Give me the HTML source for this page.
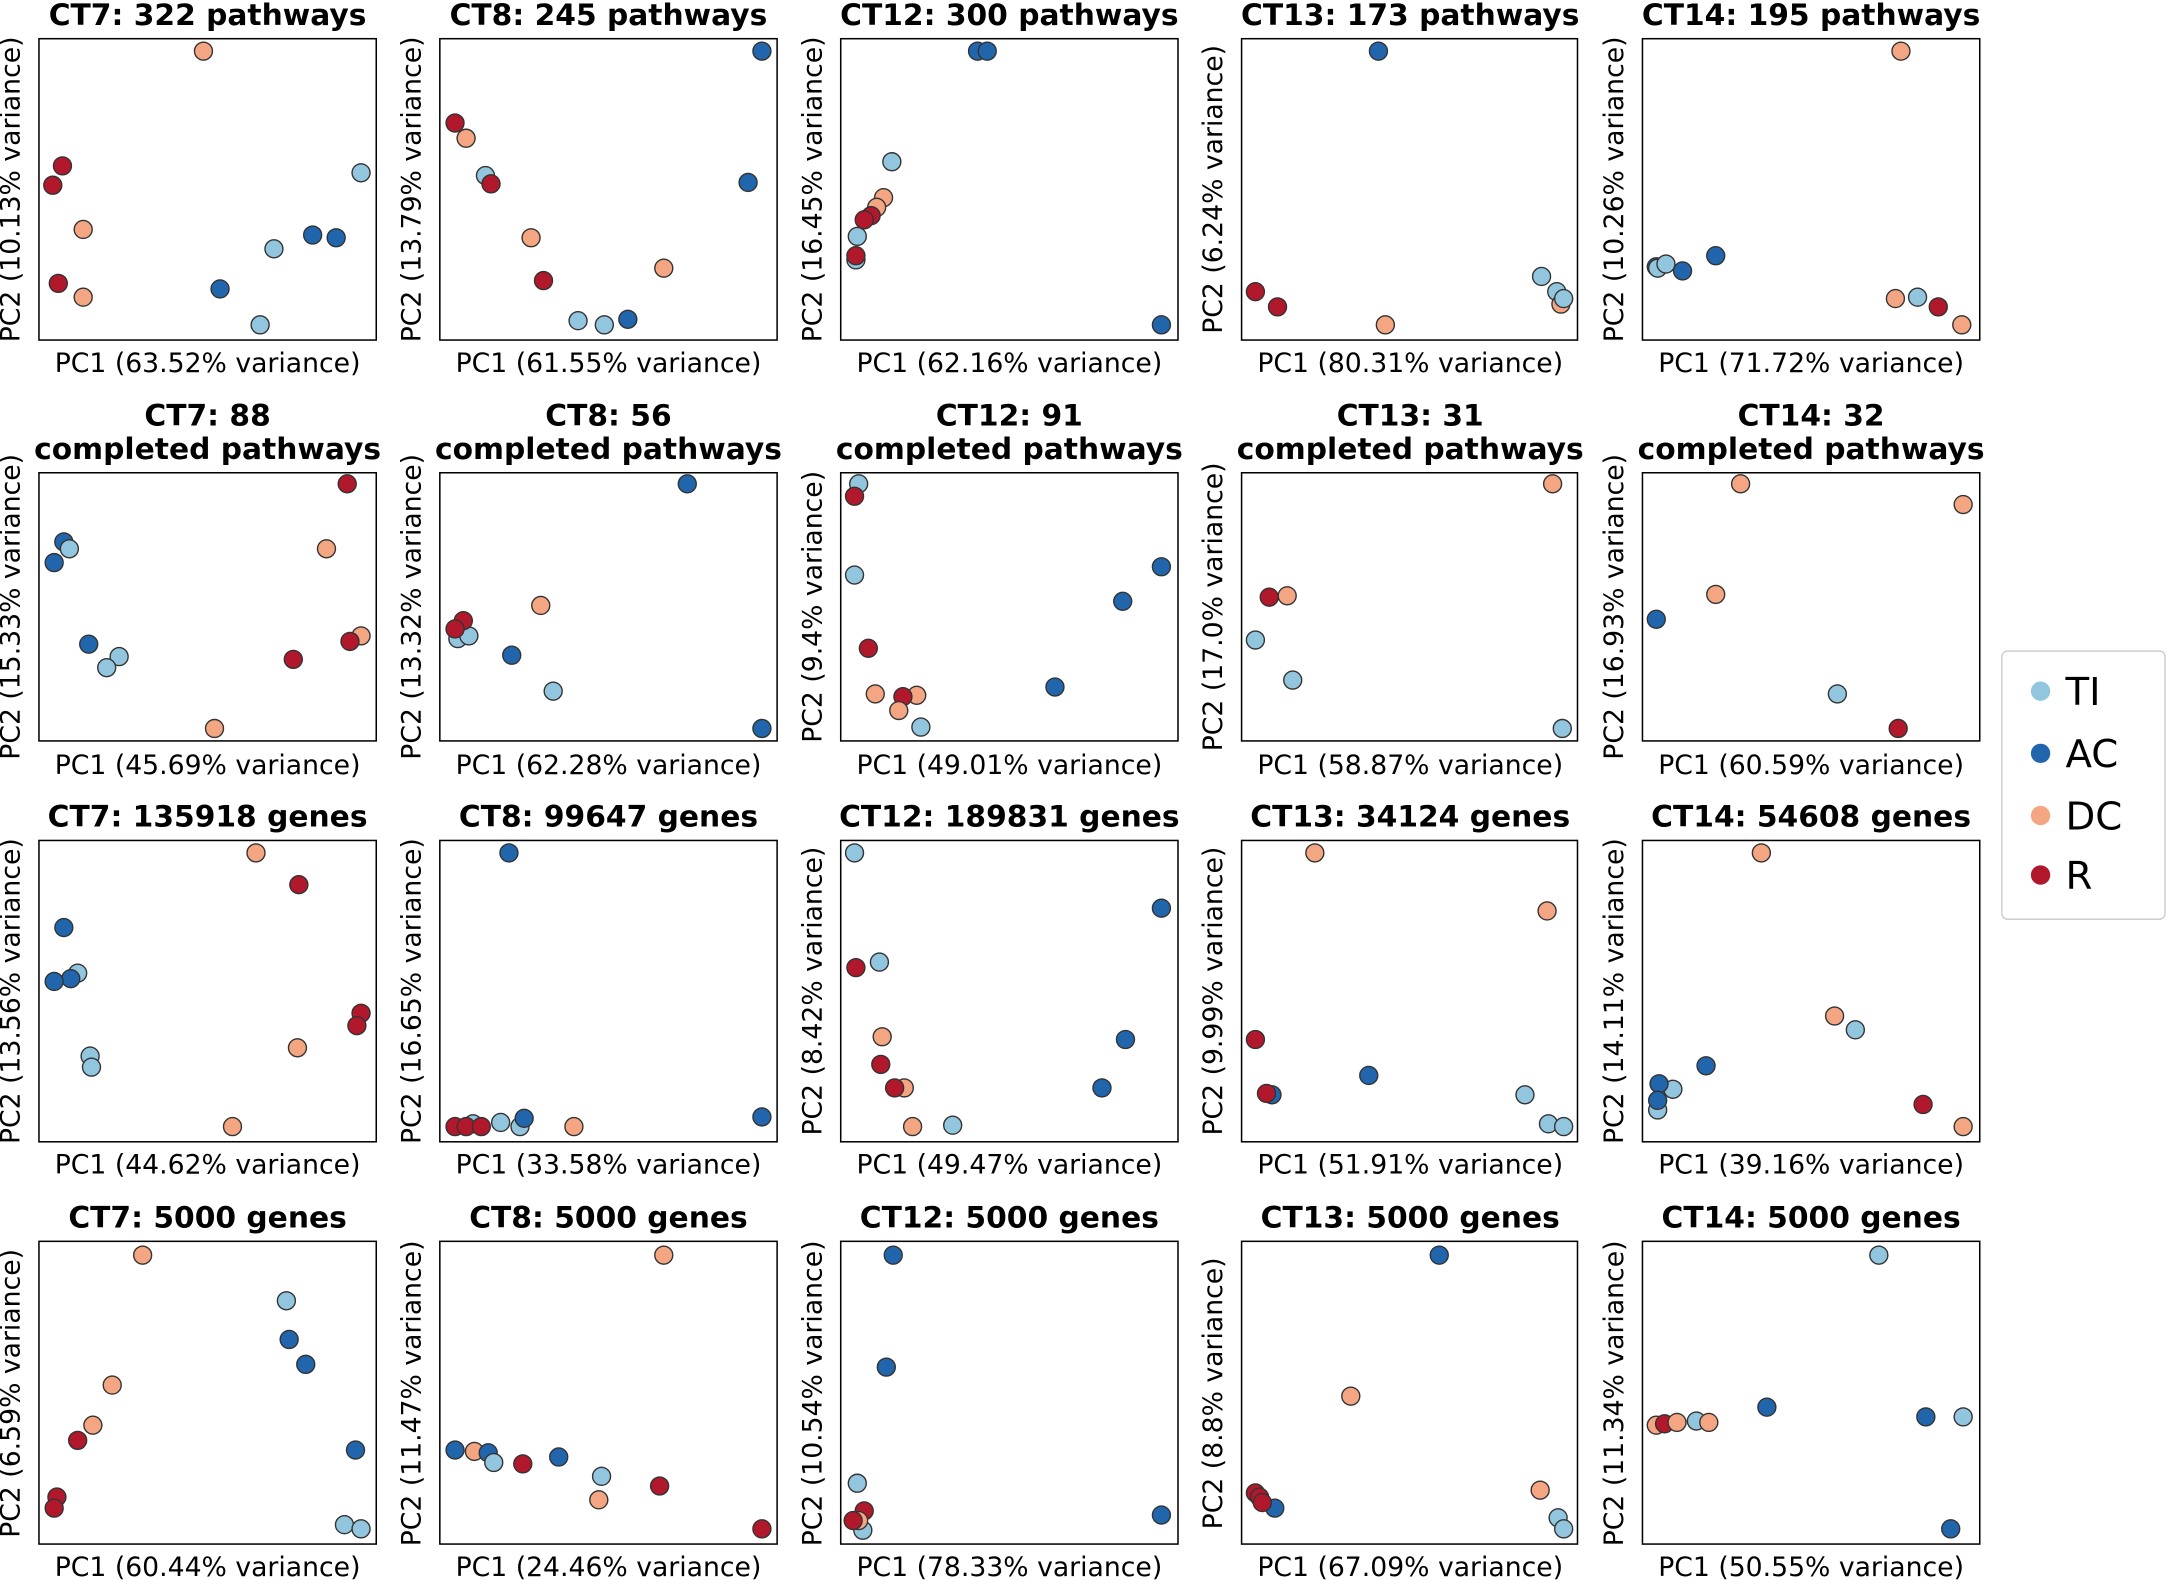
<!DOCTYPE html>
<html><head><meta charset="utf-8"><style>
html,body{margin:0;padding:0;background:#fff}
svg{display:block}
text{font-family:"DejaVu Sans","Liberation Sans",sans-serif;fill:#000}
.t{font-size:21.5px;font-weight:bold;text-anchor:middle}
.x{font-size:19.3px;text-anchor:middle}
.y{font-size:19.3px;text-anchor:middle}
.f{fill:none;stroke:#000;stroke-width:1.1}
.TI{fill:#92c5de;stroke:#333;stroke-width:1}
.AC{fill:#2166ac;stroke:#333;stroke-width:1}
.DC{fill:#f4a582;stroke:#333;stroke-width:1}
.R{fill:#b2182b;stroke:#333;stroke-width:1}
</style></head><body>
<svg width="2168" height="1580" viewBox="0 0 1568 1143" xmlns="http://www.w3.org/2000/svg">
<g>
<rect class="f" x="28" y="28" width="244" height="218"/><rect class="f" x="318" y="28" width="244" height="218"/><rect class="f" x="608" y="28" width="244" height="218"/><rect class="f" x="898" y="28" width="243" height="218"/><rect class="f" x="1188" y="28" width="244" height="218"/>
<rect class="f" x="28" y="342" width="244" height="194"/><rect class="f" x="318" y="342" width="244" height="194"/><rect class="f" x="608" y="342" width="244" height="194"/><rect class="f" x="898" y="342" width="243" height="194"/><rect class="f" x="1188" y="342" width="244" height="194"/>
<rect class="f" x="28" y="608" width="244" height="218"/><rect class="f" x="318" y="608" width="244" height="218"/><rect class="f" x="608" y="608" width="244" height="218"/><rect class="f" x="898" y="608" width="243" height="218"/><rect class="f" x="1188" y="608" width="244" height="218"/>
<rect class="f" x="28" y="898" width="244" height="219"/><rect class="f" x="318" y="898" width="244" height="219"/><rect class="f" x="608" y="898" width="244" height="219"/><rect class="f" x="898" y="898" width="243" height="219"/><rect class="f" x="1188" y="898" width="244" height="219"/>
</g>
<text class="t" x="150" y="18">CT7: 322 pathways</text><text class="t" x="440" y="18">CT8: 245 pathways</text><text class="t" x="730" y="18">CT12: 300 pathways</text><text class="t" x="1020" y="18">CT13: 173 pathways</text><text class="t" x="1310" y="18">CT14: 195 pathways</text>
<text class="t" x="150" y="308">CT7: 88</text><text class="t" x="150" y="332">completed pathways</text>
<text class="t" x="440" y="308">CT8: 56</text><text class="t" x="440" y="332">completed pathways</text>
<text class="t" x="730" y="308">CT12: 91</text><text class="t" x="730" y="332">completed pathways</text>
<text class="t" x="1020" y="308">CT13: 31</text><text class="t" x="1020" y="332">completed pathways</text>
<text class="t" x="1310" y="308">CT14: 32</text><text class="t" x="1310" y="332">completed pathways</text>
<text class="t" x="150" y="598">CT7: 135918 genes</text><text class="t" x="440" y="598">CT8: 99647 genes</text><text class="t" x="730" y="598">CT12: 189831 genes</text><text class="t" x="1020" y="598">CT13: 34124 genes</text><text class="t" x="1310" y="598">CT14: 54608 genes</text>
<text class="t" x="150" y="888">CT7: 5000 genes</text><text class="t" x="440" y="888">CT8: 5000 genes</text><text class="t" x="730" y="888">CT12: 5000 genes</text><text class="t" x="1020" y="888">CT13: 5000 genes</text><text class="t" x="1310" y="888">CT14: 5000 genes</text>
<text class="x" x="150" y="269">PC1 (63.52% variance)</text><text class="x" x="440" y="269">PC1 (61.55% variance)</text><text class="x" x="730" y="269">PC1 (62.16% variance)</text><text class="x" x="1020" y="269">PC1 (80.31% variance)</text><text class="x" x="1310" y="269">PC1 (71.72% variance)</text>
<text class="x" x="150" y="560">PC1 (45.69% variance)</text><text class="x" x="440" y="560">PC1 (62.28% variance)</text><text class="x" x="730" y="560">PC1 (49.01% variance)</text><text class="x" x="1020" y="560">PC1 (58.87% variance)</text><text class="x" x="1310" y="560">PC1 (60.59% variance)</text>
<text class="x" x="150" y="849">PC1 (44.62% variance)</text><text class="x" x="440" y="849">PC1 (33.58% variance)</text><text class="x" x="730" y="849">PC1 (49.47% variance)</text><text class="x" x="1020" y="849">PC1 (51.91% variance)</text><text class="x" x="1310" y="849">PC1 (39.16% variance)</text>
<text class="x" x="150" y="1140">PC1 (60.44% variance)</text><text class="x" x="440" y="1140">PC1 (24.46% variance)</text><text class="x" x="730" y="1140">PC1 (78.33% variance)</text><text class="x" x="1020" y="1140">PC1 (67.09% variance)</text><text class="x" x="1310" y="1140">PC1 (50.55% variance)</text>
<text class="y" transform="translate(14,137) rotate(-90)">PC2 (10.13% variance)</text><text class="y" transform="translate(304,137) rotate(-90)">PC2 (13.79% variance)</text><text class="y" transform="translate(594,137) rotate(-90)">PC2 (16.45% variance)</text><text class="y" transform="translate(884,137) rotate(-90)">PC2 (6.24% variance)</text><text class="y" transform="translate(1174,137) rotate(-90)">PC2 (10.26% variance)</text>
<text class="y" transform="translate(14,439) rotate(-90)">PC2 (15.33% variance)</text><text class="y" transform="translate(304,439) rotate(-90)">PC2 (13.32% variance)</text><text class="y" transform="translate(594,439) rotate(-90)">PC2 (9.4% variance)</text><text class="y" transform="translate(884,439) rotate(-90)">PC2 (17.0% variance)</text><text class="y" transform="translate(1174,439) rotate(-90)">PC2 (16.93% variance)</text>
<text class="y" transform="translate(14,717) rotate(-90)">PC2 (13.56% variance)</text><text class="y" transform="translate(304,717) rotate(-90)">PC2 (16.65% variance)</text><text class="y" transform="translate(594,717) rotate(-90)">PC2 (8.42% variance)</text><text class="y" transform="translate(884,717) rotate(-90)">PC2 (9.99% variance)</text><text class="y" transform="translate(1174,717) rotate(-90)">PC2 (14.11% variance)</text>
<text class="y" transform="translate(14,1008) rotate(-90)">PC2 (6.59% variance)</text><text class="y" transform="translate(304,1008) rotate(-90)">PC2 (11.47% variance)</text><text class="y" transform="translate(594,1008) rotate(-90)">PC2 (10.54% variance)</text><text class="y" transform="translate(884,1008) rotate(-90)">PC2 (8.8% variance)</text><text class="y" transform="translate(1174,1008) rotate(-90)">PC2 (11.34% variance)</text>
<g>
<circle class="DC" cx="147" cy="37" r="6.5"/><circle class="R" cx="45" cy="120" r="6.5"/><circle class="R" cx="38" cy="134" r="6.5"/><circle class="DC" cx="60" cy="166" r="6.5"/><circle class="R" cx="42" cy="205" r="6.5"/><circle class="DC" cx="60" cy="215" r="6.5"/><circle class="AC" cx="159" cy="209" r="6.5"/><circle class="TI" cx="198" cy="180" r="6.5"/><circle class="AC" cx="226" cy="170" r="6.5"/><circle class="AC" cx="243" cy="172" r="6.5"/><circle class="TI" cx="261" cy="125" r="6.5"/><circle class="TI" cx="188" cy="235" r="6.5"/>
<circle class="AC" cx="551" cy="37" r="6.5"/><circle class="R" cx="329" cy="89" r="6.5"/><circle class="DC" cx="337" cy="100" r="6.5"/><circle class="TI" cx="351" cy="127" r="6.5"/><circle class="R" cx="355" cy="133" r="6.5"/><circle class="DC" cx="384" cy="172" r="6.5"/><circle class="R" cx="393" cy="203" r="6.5"/><circle class="DC" cx="480" cy="194" r="6.5"/><circle class="AC" cx="541" cy="132" r="6.5"/><circle class="TI" cx="418" cy="232" r="6.5"/><circle class="TI" cx="437" cy="235" r="6.5"/><circle class="AC" cx="454" cy="231" r="6.5"/>
<circle class="AC" cx="707" cy="37" r="6.5"/><circle class="AC" cx="714" cy="37" r="6.5"/><circle class="TI" cx="645" cy="117" r="6.5"/><circle class="DC" cx="639" cy="143" r="6.5"/><circle class="DC" cx="634" cy="150" r="6.5"/><circle class="R" cx="630" cy="156" r="6.5"/><circle class="R" cx="625" cy="159" r="6.5"/><circle class="TI" cx="620" cy="171" r="6.5"/><circle class="TI" cx="619" cy="188" r="6.5"/><circle class="R" cx="619" cy="185" r="6.5"/><circle class="AC" cx="840" cy="235" r="6.5"/>
<circle class="AC" cx="997" cy="37" r="6.5"/><circle class="R" cx="908" cy="211" r="6.5"/><circle class="R" cx="924" cy="222" r="6.5"/><circle class="DC" cx="1002" cy="235" r="6.5"/><circle class="TI" cx="1115" cy="200" r="6.5"/><circle class="TI" cx="1126" cy="211" r="6.5"/><circle class="DC" cx="1129" cy="220" r="6.5"/><circle class="TI" cx="1131" cy="216" r="6.5"/>
<circle class="DC" cx="1375" cy="37" r="6.5"/><circle class="AC" cx="1198" cy="193" r="6.5"/><circle class="TI" cx="1199" cy="194" r="6.5"/><circle class="TI" cx="1205" cy="191" r="6.5"/><circle class="AC" cx="1217" cy="196" r="6.5"/><circle class="AC" cx="1241" cy="185" r="6.5"/><circle class="DC" cx="1371" cy="216" r="6.5"/><circle class="TI" cx="1387" cy="215" r="6.5"/><circle class="R" cx="1402" cy="222" r="6.5"/><circle class="DC" cx="1419" cy="235" r="6.5"/>
<circle class="R" cx="251" cy="350" r="6.5"/><circle class="AC" cx="46" cy="392" r="6.5"/><circle class="TI" cx="50" cy="397" r="6.5"/><circle class="AC" cx="39" cy="407" r="6.5"/><circle class="DC" cx="236" cy="397" r="6.5"/><circle class="AC" cx="64" cy="466" r="6.5"/><circle class="TI" cx="86" cy="475" r="6.5"/><circle class="TI" cx="77" cy="483" r="6.5"/><circle class="R" cx="212" cy="477" r="6.5"/><circle class="DC" cx="261" cy="460" r="6.5"/><circle class="R" cx="253" cy="464" r="6.5"/><circle class="DC" cx="155" cy="527" r="6.5"/>
<circle class="AC" cx="497" cy="350" r="6.5"/><circle class="TI" cx="331" cy="462" r="6.5"/><circle class="TI" cx="339" cy="460" r="6.5"/><circle class="R" cx="335" cy="449" r="6.5"/><circle class="R" cx="329" cy="455" r="6.5"/><circle class="DC" cx="391" cy="438" r="6.5"/><circle class="AC" cx="370" cy="474" r="6.5"/><circle class="TI" cx="400" cy="500" r="6.5"/><circle class="AC" cx="551" cy="527" r="6.5"/>
<circle class="TI" cx="621" cy="350" r="6.5"/><circle class="R" cx="618" cy="359" r="6.5"/><circle class="TI" cx="618" cy="416" r="6.5"/><circle class="R" cx="628" cy="469" r="6.5"/><circle class="DC" cx="633" cy="502" r="6.5"/><circle class="DC" cx="663" cy="503" r="6.5"/><circle class="R" cx="653" cy="504" r="6.5"/><circle class="DC" cx="650" cy="514" r="6.5"/><circle class="TI" cx="666" cy="526" r="6.5"/><circle class="AC" cx="763" cy="497" r="6.5"/><circle class="AC" cx="812" cy="435" r="6.5"/><circle class="AC" cx="840" cy="410" r="6.5"/>
<circle class="DC" cx="1123" cy="350" r="6.5"/><circle class="DC" cx="931" cy="431" r="6.5"/><circle class="R" cx="918" cy="432" r="6.5"/><circle class="TI" cx="908" cy="463" r="6.5"/><circle class="TI" cx="935" cy="492" r="6.5"/><circle class="TI" cx="1130" cy="527" r="6.5"/>
<circle class="DC" cx="1259" cy="350" r="6.5"/><circle class="DC" cx="1420" cy="365" r="6.5"/><circle class="DC" cx="1241" cy="430" r="6.5"/><circle class="AC" cx="1198" cy="448" r="6.5"/><circle class="TI" cx="1329" cy="502" r="6.5"/><circle class="R" cx="1373" cy="527" r="6.5"/>
<circle class="DC" cx="185" cy="617" r="6.5"/><circle class="R" cx="216" cy="640" r="6.5"/><circle class="AC" cx="46" cy="671" r="6.5"/><circle class="TI" cx="56" cy="704" r="6.5"/><circle class="AC" cx="51" cy="708" r="6.5"/><circle class="AC" cx="39" cy="710" r="6.5"/><circle class="TI" cx="65" cy="764" r="6.5"/><circle class="TI" cx="66" cy="772" r="6.5"/><circle class="DC" cx="215" cy="758" r="6.5"/><circle class="R" cx="261" cy="733" r="6.5"/><circle class="R" cx="258" cy="742" r="6.5"/><circle class="DC" cx="168" cy="815" r="6.5"/>
<circle class="AC" cx="368" cy="617" r="6.5"/><circle class="TI" cx="342" cy="813" r="6.5"/><circle class="TI" cx="362" cy="812" r="6.5"/><circle class="TI" cx="376" cy="815" r="6.5"/><circle class="R" cx="329" cy="815" r="6.5"/><circle class="R" cx="337" cy="815" r="6.5"/><circle class="R" cx="348" cy="815" r="6.5"/><circle class="AC" cx="379" cy="809" r="6.5"/><circle class="DC" cx="415" cy="815" r="6.5"/><circle class="AC" cx="551" cy="808" r="6.5"/>
<circle class="TI" cx="618" cy="617" r="6.5"/><circle class="AC" cx="840" cy="657" r="6.5"/><circle class="TI" cx="636" cy="696" r="6.5"/><circle class="R" cx="619" cy="700" r="6.5"/><circle class="DC" cx="638" cy="750" r="6.5"/><circle class="R" cx="637" cy="770" r="6.5"/><circle class="DC" cx="654" cy="787" r="6.5"/><circle class="R" cx="647" cy="787" r="6.5"/><circle class="DC" cx="660" cy="815" r="6.5"/><circle class="TI" cx="689" cy="814" r="6.5"/><circle class="AC" cx="814" cy="752" r="6.5"/><circle class="AC" cx="797" cy="787" r="6.5"/>
<circle class="DC" cx="951" cy="617" r="6.5"/><circle class="DC" cx="1119" cy="659" r="6.5"/><circle class="R" cx="908" cy="752" r="6.5"/><circle class="AC" cx="990" cy="778" r="6.5"/><circle class="AC" cx="920" cy="792" r="6.5"/><circle class="R" cx="916" cy="791" r="6.5"/><circle class="TI" cx="1103" cy="792" r="6.5"/><circle class="TI" cx="1120" cy="813" r="6.5"/><circle class="TI" cx="1131" cy="815" r="6.5"/>
<circle class="DC" cx="1274" cy="617" r="6.5"/><circle class="DC" cx="1327" cy="735" r="6.5"/><circle class="TI" cx="1342" cy="745" r="6.5"/><circle class="AC" cx="1234" cy="771" r="6.5"/><circle class="TI" cx="1210" cy="788" r="6.5"/><circle class="AC" cx="1200" cy="784" r="6.5"/><circle class="TI" cx="1199" cy="803" r="6.5"/><circle class="AC" cx="1199" cy="796" r="6.5"/><circle class="R" cx="1391" cy="799" r="6.5"/><circle class="DC" cx="1420" cy="815" r="6.5"/>
<circle class="DC" cx="103" cy="908" r="6.5"/><circle class="TI" cx="207" cy="941" r="6.5"/><circle class="AC" cx="209" cy="969" r="6.5"/><circle class="AC" cx="221" cy="987" r="6.5"/><circle class="DC" cx="81" cy="1002" r="6.5"/><circle class="DC" cx="67" cy="1031" r="6.5"/><circle class="R" cx="56" cy="1042" r="6.5"/><circle class="AC" cx="257" cy="1049" r="6.5"/><circle class="R" cx="41" cy="1083" r="6.5"/><circle class="R" cx="39" cy="1091" r="6.5"/><circle class="TI" cx="249" cy="1103" r="6.5"/><circle class="TI" cx="261" cy="1106" r="6.5"/>
<circle class="DC" cx="480" cy="908" r="6.5"/><circle class="AC" cx="329" cy="1049" r="6.5"/><circle class="DC" cx="343" cy="1050" r="6.5"/><circle class="AC" cx="353" cy="1051" r="6.5"/><circle class="TI" cx="357" cy="1058" r="6.5"/><circle class="R" cx="378" cy="1059" r="6.5"/><circle class="AC" cx="404" cy="1054" r="6.5"/><circle class="TI" cx="435" cy="1068" r="6.5"/><circle class="DC" cx="433" cy="1085" r="6.5"/><circle class="R" cx="477" cy="1075" r="6.5"/><circle class="R" cx="551" cy="1106" r="6.5"/>
<circle class="AC" cx="646" cy="908" r="6.5"/><circle class="AC" cx="641" cy="989" r="6.5"/><circle class="TI" cx="620" cy="1073" r="6.5"/><circle class="R" cx="625" cy="1093" r="6.5"/><circle class="TI" cx="624" cy="1107" r="6.5"/><circle class="DC" cx="621" cy="1100" r="6.5"/><circle class="R" cx="617" cy="1100" r="6.5"/><circle class="AC" cx="840" cy="1096" r="6.5"/>
<circle class="AC" cx="1041" cy="908" r="6.5"/><circle class="DC" cx="977" cy="1010" r="6.5"/><circle class="AC" cx="922" cy="1091" r="6.5"/><circle class="R" cx="908" cy="1080" r="6.5"/><circle class="R" cx="911" cy="1083" r="6.5"/><circle class="R" cx="913" cy="1087" r="6.5"/><circle class="DC" cx="1114" cy="1078" r="6.5"/><circle class="TI" cx="1127" cy="1098" r="6.5"/><circle class="TI" cx="1131" cy="1106" r="6.5"/>
<circle class="TI" cx="1359" cy="908" r="6.5"/><circle class="AC" cx="1278" cy="1018" r="6.5"/><circle class="AC" cx="1393" cy="1025" r="6.5"/><circle class="TI" cx="1420" cy="1025" r="6.5"/><circle class="DC" cx="1198" cy="1031" r="6.5"/><circle class="R" cx="1204" cy="1030" r="6.5"/><circle class="DC" cx="1213" cy="1029" r="6.5"/><circle class="TI" cx="1227" cy="1028" r="6.5"/><circle class="DC" cx="1236" cy="1029" r="6.5"/><circle class="AC" cx="1411" cy="1106" r="6.5"/>
</g>
<rect x="1448" y="471" width="118" height="194" rx="4" fill="#fff" stroke="#ccc" stroke-width="1"/>
<circle cx="1476" cy="500" r="7" fill="#92c5de"/><text x="1494" y="510" font-size="28">TI</text>
<circle cx="1476" cy="545" r="7" fill="#2166ac"/><text x="1494" y="555" font-size="28">AC</text>
<circle cx="1476" cy="590" r="7" fill="#f4a582"/><text x="1494" y="600" font-size="28">DC</text>
<circle cx="1476" cy="633" r="7" fill="#b2182b"/><text x="1494" y="643" font-size="28">R</text>
</svg>
</body></html>
